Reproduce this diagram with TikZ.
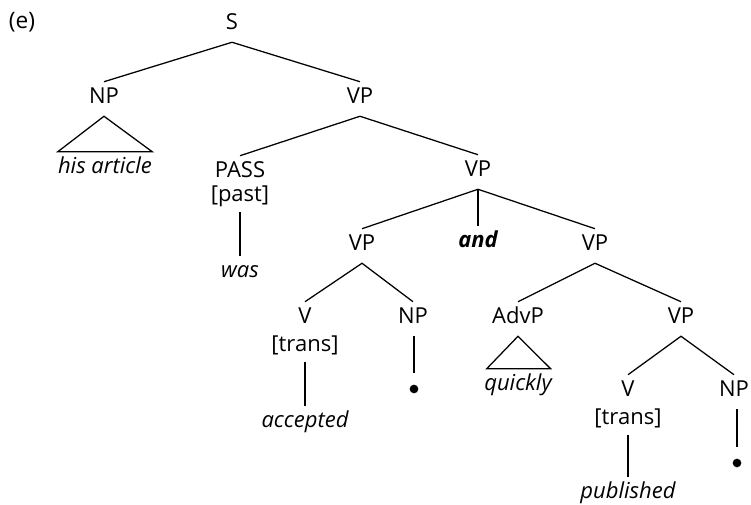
\documentclass[tikz,border=0pt]{standalone}
\usepackage{fontspec}
\setmainfont{Open Sans}
\usepackage{tikz}
\usetikzlibrary{positioning}

\tikzset{
  cat/.style={font=\fontsize{16.5}{20}\selectfont, text height=11pt, text depth=3.5pt, inner xsep=1pt, inner ysep=5.5pt},
  word/.style={cat, font=\fontsize{16.5}{20}\selectfont\itshape, inner xsep=0pt},
  feat/.style={cat, inner ysep=4pt},
  gap/.style={circle, fill=black, inner sep=0pt, minimum size=6.5pt, outer sep=8.5pt},
  branch/.style={line width=0.95pt}
}

\begin{document}
\begin{tikzpicture}[x=0.75pt, y=-0.75pt]
                \useasboundingbox (0,0) rectangle (751,505);
                \node[cat, font=\fontsize{17}{20}\selectfont] (label) at (22,24) {(e)};

                % top of the tree
                \node[cat] (s) at (232,25) {S};
                \node[cat] (np1) at (104,99) {NP};
                \node[word] (his) at (105,169) {his article};
                \node[cat] (vp1) at (360,99) {VP};
                \node[cat] (pass) at (240,173) {PASS};
                \node[feat] (past) at (240,197) {[past]};
                \node[word] (was) at (240,273) {was};
                \node[cat] (vp2) at (478,172) {VP};

                % coordination
                \node[cat] (vp3) at (362,246) {VP};
                \node[word, font=\fontsize{16.5}{20}\selectfont\bfseries\itshape] (and) at (478,243) {and};
                \node[cat] (vp4) at (595,246) {VP};

                % left conjunct
                \node[cat] (v1) at (305,319) {V};
                \node[feat] (tr1) at (305,347) {[trans]};
                \node[word] (acc) at (305,423) {accepted};
                \node[cat] (np2) at (413,319) {NP};
                \node[gap] (dot1) at (414,389) {};

                % right conjunct
                \node[cat] (advp) at (518,319) {AdvP};
                \node[word] (quick) at (518,386) {quickly};
                \node[cat] (vp5) at (681,319) {VP};
                \node[cat] (v2) at (628,392) {V};
                \node[feat] (tr2) at (628,420) {[trans]};
                \node[word] (pub) at (628,494) {published};
                \node[cat] (np3) at (734,392) {NP};
                \node[gap] (dot2) at (737,463) {};

                % branches
                \draw[branch] (np1.north) -- (s.south) -- (vp1.north);
                \draw[branch] (pass.north) -- (vp1.south) -- (vp2.north);
                \draw[branch] (past.south) -- (was.north);
                \draw[branch] (vp2.south) -- (and.north);
                \draw[branch] (vp3.north) -- (vp2.south) -- (vp4.north);
                \draw[branch] (v1.north) -- (vp3.south) -- (np2.north);
                \draw[branch] (tr1.south) -- (acc.north);
                \draw[branch] (np2.south -| dot1) -- (dot1);
                \draw[branch] (advp.north) -- (vp4.south) -- (vp5.north);
                \draw[branch] (v2.north) -- (vp5.south) -- (np3.north);
                \draw[branch] (tr2.south) -- (pub.north);
                \draw[branch] (np3.south -| dot2) -- (dot2);

                % triangles
                \draw[branch] (np1.south) -- (his.north west) -- (his.north east) -- cycle;
                \draw[branch] (advp.south) -- ([xshift=2pt]quick.north west) -- ([xshift=-1pt]quick.north east) -- cycle;
            \end{tikzpicture}
\end{document}
